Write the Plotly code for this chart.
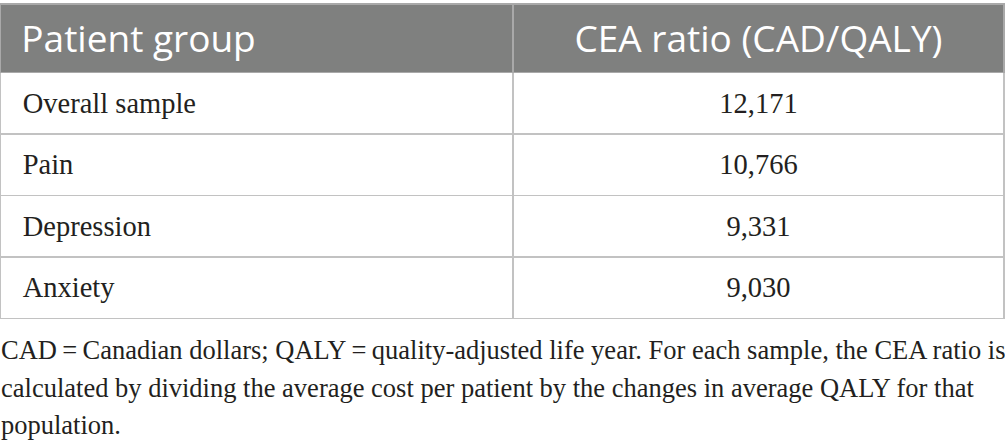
import plotly.graph_objects as go

header_labels = ["Patient group", "CEA ratio (CAD/QALY)"]
patient_groups = ["Overall sample", "Pain", "Depression", "Anxiety"]
cea_ratios = ["12,171", "10,766", "9,331", "9,030"]
footnote_lines = [
    "CAD\u2009=\u2009Canadian dollars; QALY\u2009=\u2009quality-adjusted life year. For each sample, the CEA ratio is",
    "calculated by dividing the average cost per patient by the changes in average QALY for that",
    "population.",
]

FIG_W, FIG_H, TOP = 1005, 446, 4
line_color = "#c2c2c2"
HEAD_FS, BODY_FS = 37, 28.5
BODY_STRUT = 36  # a taller blank glyph lowers the body text inside its row


def header_markup(txt, lead=""):
    return f'<br><span style="font-size:{HEAD_FS}px">{lead}{txt}</span>'


def body_markup(txt, lead="", trail=""):
    strut = f'<span style="font-size:{BODY_STRUT}px">\u00a0</span>'
    return (f'<br>{strut}<span style="font-size:{BODY_FS}px">{lead}{txt}</span>'
            + (strut if trail else ""))


header_vals = [
    [header_markup(header_labels[0], "\u00a0\u200a")],
    [header_markup(header_labels[1])],
]
cell_vals = [
    [body_markup(t, "\u2009") for t in patient_groups],
    [body_markup(t, trail=True) for t in cea_ratios],
]

fig = go.Figure(
    go.Table(
        columnwidth=[513, 491],
        domain=dict(x=[0, 1], y=[0, 1]),
        header=dict(
            values=header_vals,
            fill_color="#7f807f",
            line=dict(color="#a9a9a9", width=1.5),
            align=["left", "center"],
            font=dict(family="Open Sans", size=20, color="white"),
            height=68.5,
        ),
        cells=dict(
            values=cell_vals,
            fill_color="white",
            line=dict(color=line_color, width=1.5),
            align=["left", "center"],
            font=dict(family="Liberation Serif", size=20, color="#231f20"),
            height=61.5,
        ),
    )
)

plot_h = FIG_H - TOP
first_top_px, line_step_px = 334, 37.5
for i, line in enumerate(footnote_lines):
    ypx = first_top_px + i * line_step_px
    fig.add_annotation(
        x=0, y=1 - (ypx - TOP) / plot_h, xref="paper", yref="paper",
        xanchor="left", yanchor="top", align="left", showarrow=False,
        text=line, borderpad=0,
        font=dict(family="Liberation Serif", size=26.5, color="#231f20"),
    )

fig.update_layout(
    width=FIG_W, height=FIG_H,
    margin=dict(l=0, r=1, t=TOP, b=0),
    paper_bgcolor="white",
)

fig.write_html(
    "out.html",
    config={"displayModeBar": False},
    post_script="document.body.style.margin='0';",
)
